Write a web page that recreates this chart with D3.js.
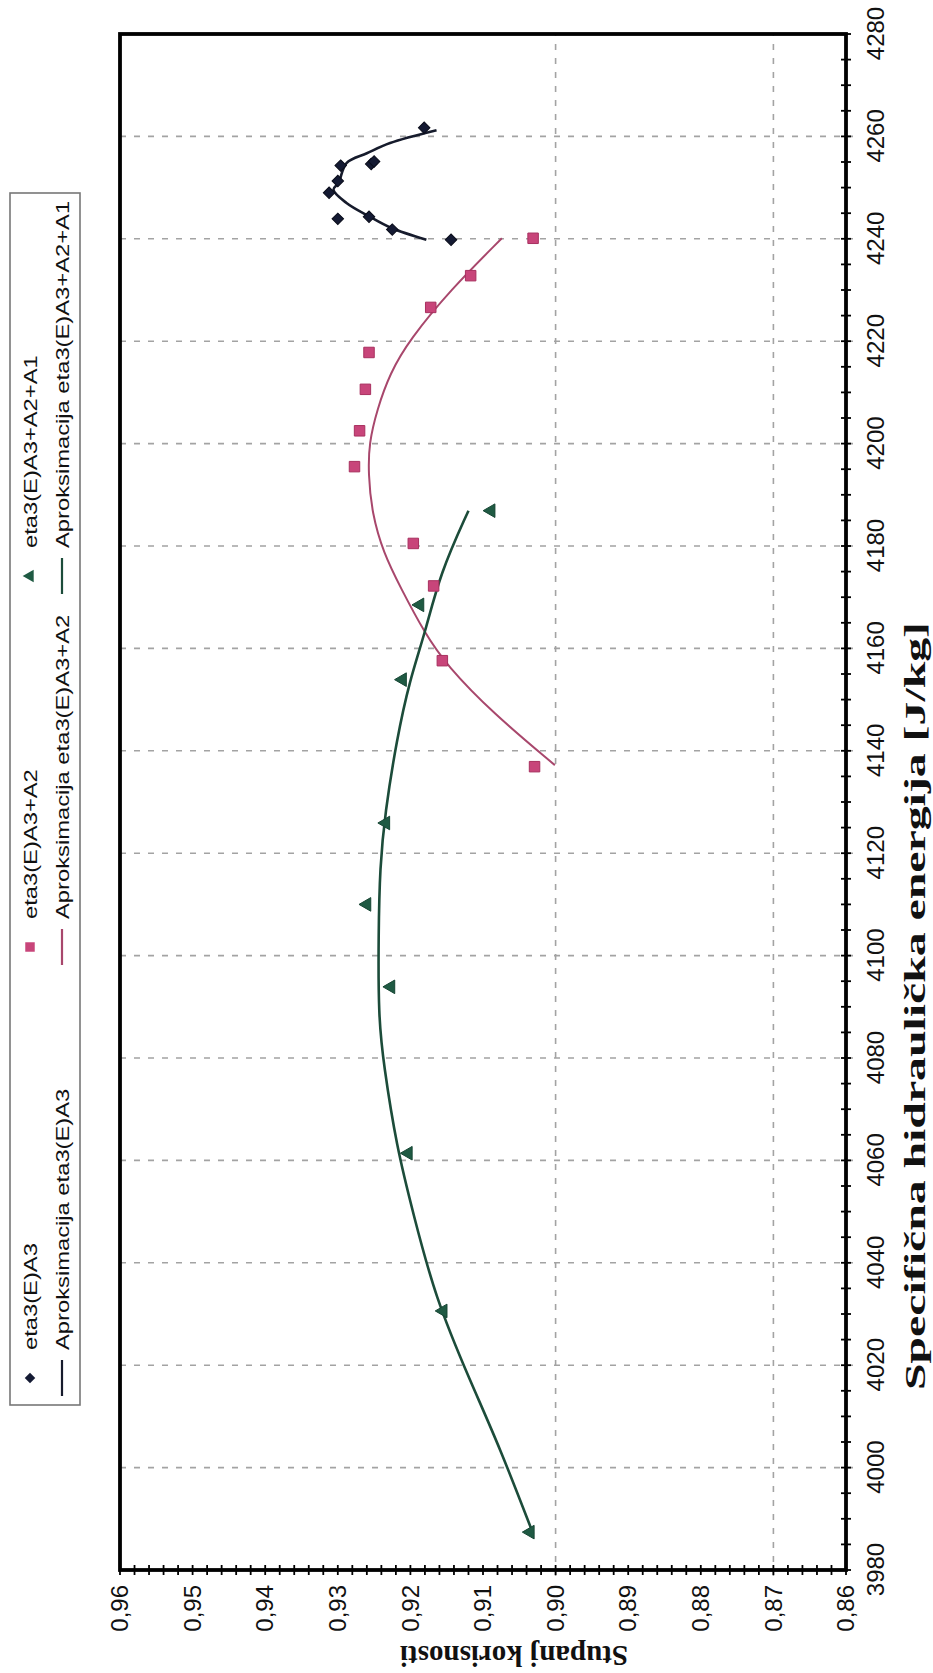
<!DOCTYPE html>
<html><head><meta charset="utf-8">
<script src="https://cdn.jsdelivr.net/npm/d3@7/dist/d3.min.js"></script>
<style>body{margin:0;background:#fff}svg{display:block}</style>
</head><body>
<svg id="c" width="933" height="1673"></svg>
<script>
// ---------- data ----------
const energyTicks = [3980,4000,4020,4040,4060,4080,4100,4120,4140,4160,4180,4200,4220,4240,4260,4280];
const etaTicks = [0.86,0.87,0.88,0.89,0.90,0.91,0.92,0.93,0.94,0.95,0.96];
const energyGrid = [4000,4020,4040,4060,4080,4100,4120,4140,4160,4180,4200,4220,4240,4260];
const etaGrid = [0.87,0.90];

const seriesNames = ["eta3(E)A3","eta3(E)A3+A2","eta3(E)A3+A2+A1"];
const fitNames = ["Aproksimacija eta3(E)A3","Aproksimacija eta3(E)A3+A2","Aproksimacija eta3(E)A3+A2+A1"];

const a3E   = [4261.7,4254.3,4254.6,4255.1,4251.3,4249.0,4243.9,4244.3,4241.8,4239.8];
const a3Eta = [0.9181,0.9296,0.9254,0.9250,0.9300,0.9312,0.9300,0.9257,0.9225,0.9144];
const a3FitE   = [4239.8,4242.1,4244.4,4247.0,4249.6,4250.9,4254.8,4256.7,4258.7,4261.2];
const a3FitEta = [0.9178,0.9226,0.9257,0.9288,0.9306,0.9299,0.9288,0.9260,0.9228,0.9164];

const a32E   = [4240.1,4232.8,4226.6,4217.8,4210.6,4202.5,4195.5,4180.5,4172.2,4157.6,4136.9];
const a32Eta = [0.9031,0.9117,0.9172,0.9257,0.9262,0.9270,0.9277,0.9196,0.9168,0.9156,0.9029];
const a32FitE   = [4240.1,4230.0,4220.3,4213.8,4206.6,4200.1,4194.2,4186.4,4178.6,4172.0,4162.9,4156.7,4147.3,4137.2];
const a32FitEta = [0.9074,0.9145,0.9201,0.9228,0.9246,0.9257,0.9258,0.9253,0.9237,0.9214,0.9180,0.9150,0.9086,0.9001];

const a321E   = [4186.9,4168.5,4153.9,4125.9,4110.0,4093.9,4061.4,4030.6,3987.4];
const a321Eta = [0.9089,0.9187,0.9211,0.9234,0.9260,0.9227,0.9203,0.9155,0.9035];
const a321FitE   = [4186.9,4174.7,4162.9,4153.8,4142.1,4127.8,4117.3,4104.3,4088.0,4078.9,4062.6,4049.6,4033.3,4017.0,4004.0,3987.1];
const a321FitEta = [0.9120,0.9159,0.9180,0.9201,0.9219,0.9235,0.9242,0.9244,0.9244,0.9237,0.9219,0.9196,0.9166,0.9118,0.9077,0.9031];

const xTitle = "Specifična hidraulička energija [J/kg]";
const yTitle = "Stupanj korisnosti";

// ---------- drawing ----------
const svg = d3.select("#c");
// whole chart drawn in its own (unrotated) frame, then turned 90° counter-clockwise
const g = svg.append("g").attr("transform","translate(0,1673) rotate(-90)");

const x = d3.scaleLinear().domain([3980,4280]).range([103,1639]);
const y = d3.scaleLinear().domain([0.86,0.96]).range([846,120]);
const fmt = v => d3.format(".2f")(v).replace(".", ",");

const gridC = "#a3a3a3";
// grid
g.append("g").selectAll("line").data(energyGrid).join("line")
  .attr("x1",d=>x(d)).attr("x2",d=>x(d)).attr("y1",y(0.96)).attr("y2",y(0.86)+7)
  .attr("stroke",gridC).attr("stroke-width",1.6).attr("stroke-dasharray","6,8");
g.append("g").selectAll("line").data(etaGrid).join("line")
  .attr("x1",x(3980)-6).attr("x2",x(4280)).attr("y1",d=>y(d)).attr("y2",d=>y(d))
  .attr("stroke",gridC).attr("stroke-width",1.6).attr("stroke-dasharray","6,8");

// minor ticks (crossing the axis lines)
const minorE = d3.range(3980,4281,5);
const minorEta = d3.range(0,51).map(i=>0.86+i*0.002);
g.append("g").selectAll("line").data(minorE).join("line")
  .attr("x1",d=>x(d)).attr("x2",d=>x(d)).attr("y1",y(0.86)-5).attr("y2",y(0.86)+5)
  .attr("stroke","#000").attr("stroke-width",1.8);
g.append("g").selectAll("line").data(minorEta).join("line")
  .attr("y1",d=>y(d)).attr("y2",d=>y(d)).attr("x1",x(3980)-5).attr("x2",x(3980)+5)
  .attr("stroke","#000").attr("stroke-width",1.8);

// axes labels
const xAxis = g.append("g").attr("transform",`translate(0,${y(0.86)})`)
  .call(d3.axisBottom(x).tickValues(energyTicks).tickSize(0).tickPadding(21).tickFormat(d3.format("d")));
xAxis.select(".domain").remove();
xAxis.selectAll("text").attr("font-family","'Liberation Sans',Arial,sans-serif").attr("font-size",24).attr("fill","#111");

const yAxis = g.append("g").attr("transform",`translate(${x(3980)},0)`)
  .call(d3.axisLeft(y).tickValues(etaTicks).tickSize(0).tickPadding(15).tickFormat(fmt));
yAxis.select(".domain").remove();
yAxis.selectAll("text").attr("font-family","'Liberation Sans',Arial,sans-serif").attr("font-size",24).attr("fill","#111");

// frame
g.append("rect").attr("x",x(3980)).attr("y",y(0.96)).attr("width",x(4280)-x(3980)).attr("height",y(0.86)-y(0.96))
  .attr("fill","none").attr("stroke","#000").attr("stroke-width",3.8);

// fit lines
const lineCR = d3.line().x(d=>x(d[0])).y(d=>y(d[1])).curve(d3.curveCatmullRom.alpha(0.5));
const lineB = d3.line().x(d=>x(d[0])).y(d=>y(d[1])).curve(d3.curveBasis);
const fits = [
  {E:a3FitE, eta:a3FitEta, c:"#161b2c", w:2.6, l:lineCR},
  {E:a32FitE, eta:a32FitEta, c:"#a8476c", w:2.0, l:lineB},
  {E:a321FitE, eta:a321FitEta, c:"#1c4c3a", w:2.6, l:lineB}
];
fits.forEach(f=>{
  g.append("path").datum(f.E.map((e,i)=>[e,f.eta[i]])).attr("d",f.l)
    .attr("fill","none").attr("stroke",f.c).attr("stroke-width",f.w);
});

// markers
g.append("g").selectAll("path").data(a3E.map((e,i)=>[e,a3Eta[i]])).join("path")
  .attr("d",d3.symbol().type(d3.symbolSquare).size(66)()).attr("transform",d=>`translate(${x(d[0])},${y(d[1])}) rotate(45)`)
  .attr("fill","#141a33").attr("stroke","#0a0d1a").attr("stroke-width",1);
g.append("g").selectAll("path").data(a32E.map((e,i)=>[e,a32Eta[i]])).join("path")
  .attr("d",d3.symbol().type(d3.symbolSquare).size(110)()).attr("transform",d=>`translate(${x(d[0])},${y(d[1])})`)
  .attr("fill","#c8457a").attr("stroke","#a8305f").attr("stroke-width",1);
g.append("g").selectAll("path").data(a321E.map((e,i)=>[e,a321Eta[i]])).join("path")
  .attr("d",d3.symbol().type(d3.symbolTriangle).size(80)()).attr("transform",d=>`translate(${x(d[0])},${y(d[1])})`)
  .attr("fill","#1f5a43").attr("stroke","#174634").attr("stroke-width",1);

// titles
g.append("text").attr("x",667).attr("y",925).attr("text-anchor","middle")
  .attr("textLength",768).attr("lengthAdjust","spacingAndGlyphs")
  .attr("font-family","'Liberation Serif','Times New Roman',serif").attr("font-weight","bold").attr("font-size",30)
  .attr("fill","#111").text(xTitle);
g.append("text").attr("transform","translate(27,514) rotate(-90)").attr("text-anchor","middle")
  .attr("font-family","'Liberation Serif','Times New Roman',serif").attr("font-weight","bold").attr("font-size",29)
  .attr("fill","#111").text(yTitle);

// legend
const lg = g.append("g");
lg.append("rect").attr("x",268).attr("y",10).attr("width",1480-268).attr("height",70)
  .attr("fill","#fff").attr("stroke","#777").attr("stroke-width",1.6);
const colU = [295,726,1097];
const lineCols = ["#161b2c","#a8476c","#1c4c3a"];
const mk = [
  {t:d3.symbolSquare, s:55, f:"#141a33", r:45},
  {t:d3.symbolSquare, s:90, f:"#c8457a", r:0},
  {t:d3.symbolTriangle, s:70, f:"#1f5a43", r:0}
];
const legText = (u,v,s) => lg.append("text")
  .attr("transform",`translate(${u},${v}) scale(1.25,1)`).attr("dy","0.35em")
  .attr("font-family","'Liberation Sans',Arial,sans-serif").attr("font-size",19).attr("fill","#111").text(s);
seriesNames.forEach((n,i)=>{
  lg.append("path").attr("d",d3.symbol().type(mk[i].t).size(mk[i].s)())
    .attr("transform",`translate(${colU[i]},30) rotate(${mk[i].r})`).attr("fill",mk[i].f);
  legText(colU[i]+28,30,n);
});
fitNames.forEach((n,i)=>{
  lg.append("line").attr("x1",colU[i]-18).attr("x2",colU[i]+18).attr("y1",62).attr("y2",62)
    .attr("stroke",lineCols[i]).attr("stroke-width",2.2);
  legText(colU[i]+28,62,n);
});
</script>
</body></html>
